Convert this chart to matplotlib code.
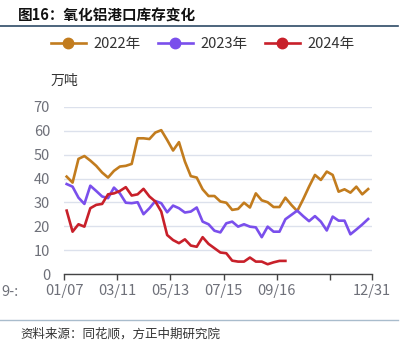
import matplotlib.pyplot as plt
import matplotlib.lines as mlines
import numpy as np

plt.rcParams['font.family'] = ['Noto Sans CJK SC', 'DejaVu Sans']

# 周度库存（万吨）
s2022 = [40.8, 38.3, 48.2, 49.4, 47.5, 45.3, 42.5, 40.4, 43.2, 45.0,
         45.3, 46.1, 56.8, 56.8, 56.5, 59.2, 60.2, 56.1, 51.7, 55.2,
         47.1, 41.0, 40.4, 35.5, 32.7, 32.7, 30.4, 29.9, 26.9, 27.3,
         29.9, 27.9, 33.8, 30.9, 30.1, 28.1, 28.1, 32.0, 29.0, 26.4,
         31.3, 36.6, 41.5, 39.4, 42.9, 41.5, 34.5, 35.5, 34.1, 36.6,
         33.4, 35.6]
s2023 = [37.7, 36.6, 32.0, 29.4, 37.0, 34.8, 32.5, 31.8, 36.2, 33.8,
         29.9, 29.7, 30.1, 25.1, 27.6, 30.6, 29.7, 25.9, 28.7, 27.6,
         25.8, 26.2, 27.9, 22.0, 20.9, 18.2, 17.5, 21.3, 22.0, 19.9,
         20.9, 19.9, 19.6, 15.5, 19.9, 17.8, 17.8, 23.0, 24.8, 26.6,
         24.3, 22.2, 24.3, 22.0, 18.3, 24.1, 22.4, 22.4, 16.7, 18.7,
         20.8, 23.1]
s2024 = [26.6, 17.8, 20.9, 19.9, 27.6, 29.0, 29.4, 33.4, 33.8, 34.8,
         36.4, 32.9, 33.4, 35.7, 32.5, 30.4, 26.2, 16.4, 14.3, 13.0,
         14.6, 12.0, 11.5, 15.5, 12.7, 10.9, 9.1, 8.8, 5.7, 5.3,
         5.3, 7.0, 5.3, 5.3, 4.2, 5.0, 5.6, 5.6]
tick_labels = ['01/07', '03/11', '05/13', '07/15', '09/16', '', '12/31']
tick_weeks = [0, 9, 18, 27, 36, 45, 52.1]

series = [('2022年', s2022, '#C27C1E'),
          ('2023年', s2023, '#7A4FEC'),
          ('2024年', s2024, '#C8202A')]

fig = plt.figure(figsize=(4.05, 3.52), dpi=100)
ax = fig.add_axes([64 / 405, 1 - 274.3 / 352, 308 / 405, 167.6 / 352])

for name, vals, c in series:
    x = np.arange(len(vals)) + 0.45
    ax.plot(x, vals, color=c, lw=1.9, solid_joinstyle='round', zorder=3)

ax.set_xlim(0, 52.1)
ax.set_ylim(0, 70)
ax.set_yticks(range(0, 71, 10))
ax.set_xticks(tick_weeks)
ax.set_xticklabels(tick_labels)
ax.grid(axis='y', color='#DCE1EC', lw=1)
ax.set_axisbelow(True)
for sp in ['top', 'right', 'left']:
    ax.spines[sp].set_visible(False)
ax.spines['bottom'].set_color('#444444')
ax.spines['bottom'].set_linewidth(1)
ax.tick_params(axis='x', colors='#444444', length=4, width=1, pad=3,
               labelsize=10.5, labelcolor='#6E7079')
ax.tick_params(axis='y', length=0, pad=10, labelsize=10.5, labelcolor='#6E7079')

fig.text(64 / 405, 1 - 81 / 352, '万吨', ha='center', va='center',
         fontsize=10, color='#333333')
fig.text(1 / 405, 1 - 292 / 352, '9-:', ha='left', va='center',
         fontsize=10.5, color='#6E7079')

# 标题
fig.text(18 / 405, 1 - 16 / 352, '图16：氧化铝港口库存变化', ha='left', va='center',
         fontsize=10.5, fontweight='bold', color='#111111')
fig.add_artist(mlines.Line2D([0, 398 / 405], [1 - 26 / 352] * 2,
                             color='#2E4A66', lw=1.2))

handles = [mlines.Line2D([], [], color=c, lw=1.9, marker='o', markersize=7.5)
           for _, _, c in series]
fig.legend(handles, [s[0] for s in series], loc='center',
           bbox_to_anchor=(0.5, 1 - 44 / 352), ncol=3, frameon=False,
           fontsize=10.5, handlelength=2.4, columnspacing=1.2,
           handletextpad=0.5, labelcolor='#333333')

# 来源
fig.add_artist(mlines.Line2D([0, 398 / 405], [1 - 319.5 / 352] * 2,
                             color='#A9BCCC', lw=1))
fig.text(20 / 405, 1 - 334 / 352, '资料来源：同花顺，方正中期研究院', ha='left',
         va='center', fontsize=9, style='italic', color='#333333')

fig.savefig('out.png', dpi=100)
